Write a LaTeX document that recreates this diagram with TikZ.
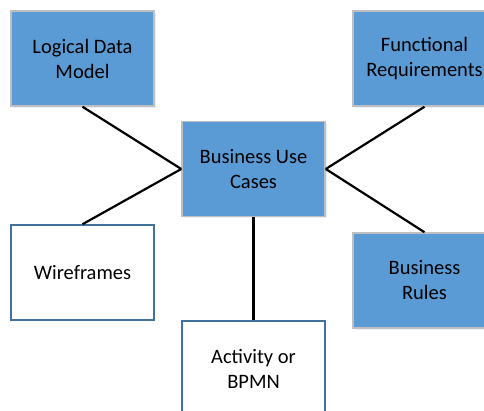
\documentclass[tikz,border=0pt]{standalone}
\usepackage{fontspec}
\setmainfont{Carlito}
\usetikzlibrary{shadows}
\definecolor{boxblue}{HTML}{5B9BD5}
\definecolor{boxedge}{HTML}{BFBFBF}
\definecolor{lineblue}{HTML}{41719C}
\tikzset{
    block/.style = {draw=boxedge, fill=boxblue, rectangle, line width=1.5pt,
        minimum height=95pt,
        minimum width=143pt,
        align=center, font=\fontsize{20.5}{25}\selectfont,
        drop shadow={shadow xshift=1.5pt, shadow yshift=-2pt, opacity=.15, fill=boxblue}},
    plain/.style = {draw=lineblue, fill=white, rectangle, line width=1.5pt,
        minimum height=95pt,
        minimum width=143pt,
        align=center, font=\fontsize{20.5}{25}\selectfont},
    link/.style = {draw, line width=2.2pt, black}
}
\begin{document}
\begin{tikzpicture}[x=1pt,y=1pt]
    \useasboundingbox (0,0) rectangle (484,411);
    \clip (0,0) rectangle (484,411);
    \node[block] (ldm) at (82.5,352.5) {Logical Data\\Model};
    \node[block] (fr) at (424.5,352.5) {Functional\\Requirements};
    \node[block] (buc) at (253.5,242) {Business Use\\Cases};
    \node[plain] (wf) at (82.5,138.5) {Wireframes};
    \node[block] (br) at (424.5,130.5) {Business\\Rules};
    \node[plain] (act) at (253.5,42.5) {Activity or\\BPMN};
    \draw[link] (ldm.south) -- (buc.west);
    \draw[link] (fr.south) -- (buc.east);
    \draw[link] (wf.north) -- (buc.west);
    \draw[link] (br.north) -- (buc.east);
    \draw[link] (act.north) -- (buc.south);
\end{tikzpicture}
\end{document}
